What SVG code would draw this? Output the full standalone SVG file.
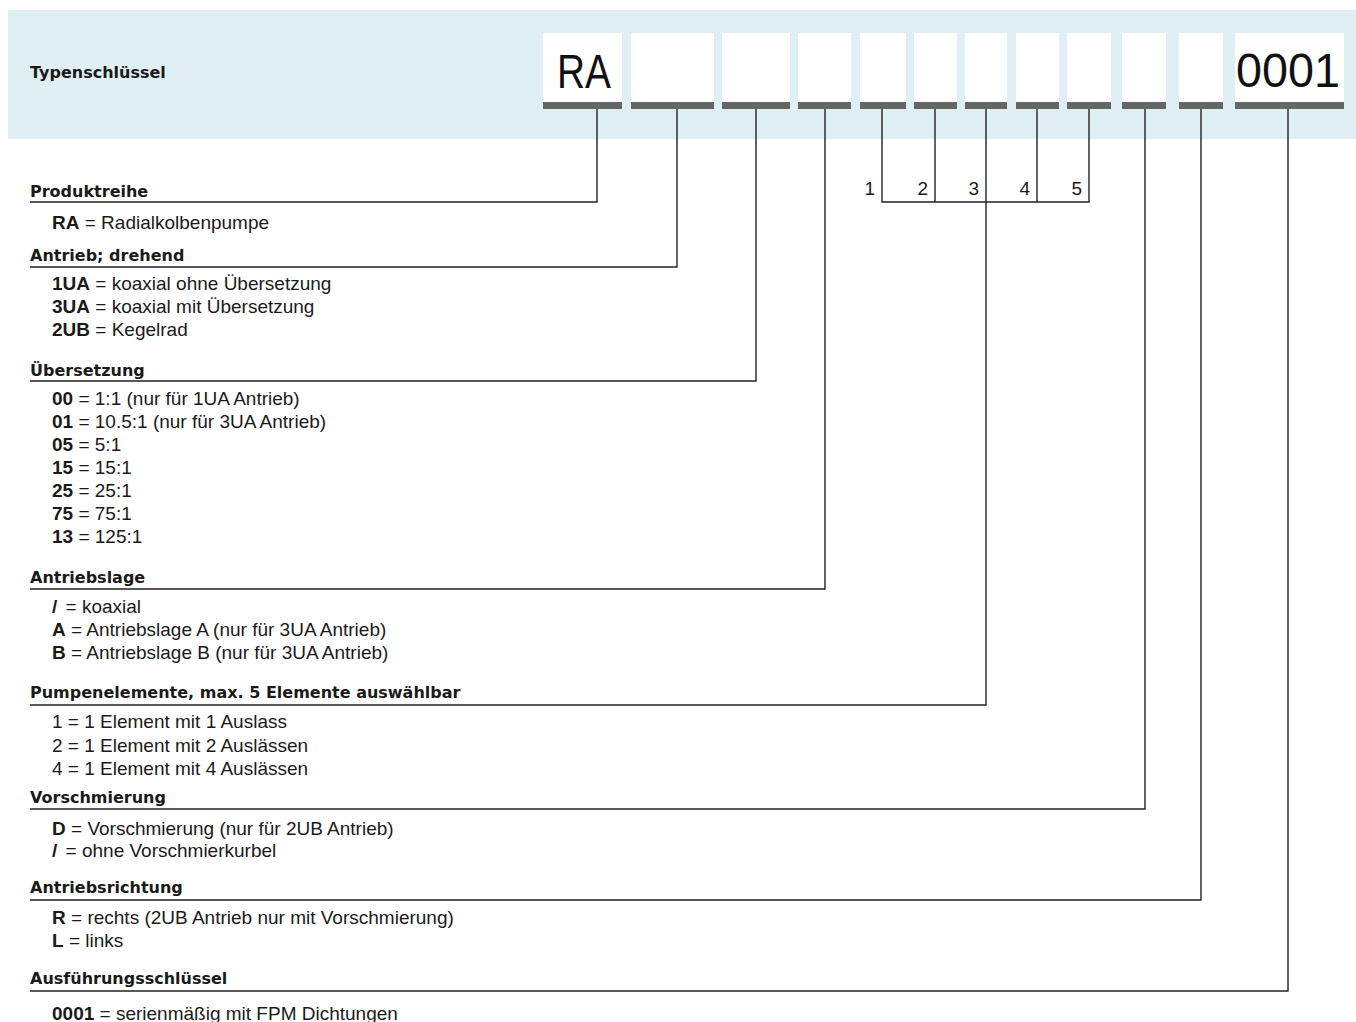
<svg xmlns="http://www.w3.org/2000/svg" width="1356" height="1022" viewBox="0 0 1356 1022">
<style>
.band{fill:#dfeff4}
.box{fill:#ffffff}
.bar{fill:#666666}
.h{font-family:"DejaVu Sans","Liberation Sans",sans-serif;font-weight:bold;font-size:16px;fill:#1a1a1a}
.t{font-family:"Liberation Sans",Arial,sans-serif;font-size:19px;fill:#1a1a1a}
.b{font-weight:bold}
.big{font-family:"Liberation Sans",Arial,sans-serif;font-size:48px;fill:#111111}
.num{font-family:"Liberation Sans",Arial,sans-serif;font-size:19px;fill:#1a1a1a;text-anchor:end}
.c{fill:none;stroke:#222222;stroke-width:1.4}
</style>
<rect width="1356" height="1022" fill="#ffffff"/>
<g id="header">
<rect class="band" x="8" y="10" width="1348" height="129"/>
<text class="h" x="30" y="78">Typenschlüssel</text>
</g>
<g id="code-boxes">
<g id="box-1"><rect class="box" x="543" y="33" width="79" height="69"/><rect class="bar" x="543" y="102" width="79" height="7"/><text class="big" x="557" y="88" textLength="54" lengthAdjust="spacingAndGlyphs">RA</text></g>
<g id="box-2"><rect class="box" x="631" y="33" width="83" height="69"/><rect class="bar" x="631" y="102" width="83" height="7"/></g>
<g id="box-3"><rect class="box" x="722" y="33" width="68" height="69"/><rect class="bar" x="722" y="102" width="68" height="7"/></g>
<g id="box-4"><rect class="box" x="798" y="33" width="53" height="69"/><rect class="bar" x="798" y="102" width="53" height="7"/></g>
<g id="box-5"><rect class="box" x="860" y="33" width="46" height="69"/><rect class="bar" x="860" y="102" width="46" height="7"/></g>
<g id="box-6"><rect class="box" x="914" y="33" width="43" height="69"/><rect class="bar" x="914" y="102" width="43" height="7"/></g>
<g id="box-7"><rect class="box" x="965" y="33" width="42" height="69"/><rect class="bar" x="965" y="102" width="42" height="7"/></g>
<g id="box-8"><rect class="box" x="1016" y="33" width="43" height="69"/><rect class="bar" x="1016" y="102" width="43" height="7"/></g>
<g id="box-9"><rect class="box" x="1067" y="33" width="44" height="69"/><rect class="bar" x="1067" y="102" width="44" height="7"/></g>
<g id="box-10"><rect class="box" x="1122" y="33" width="44" height="69"/><rect class="bar" x="1122" y="102" width="44" height="7"/></g>
<g id="box-11"><rect class="box" x="1179" y="33" width="44" height="69"/><rect class="bar" x="1179" y="102" width="44" height="7"/></g>
<g id="box-12"><rect class="box" x="1235" y="33" width="109" height="69"/><rect class="bar" x="1235" y="102" width="109" height="7"/><text class="big" x="1236" y="87" textLength="104" lengthAdjust="spacingAndGlyphs">0001</text></g>
</g>
<g id="connectors">
<path class="c" d="M597,109 V202 H30"/>
<path class="c" d="M677,109 V267 H30"/>
<path class="c" d="M756,109 V381 H30"/>
<path class="c" d="M825,109 V589 H30"/>
<path class="c" d="M882,109 V202 H1089 V109"/>
<path class="c" d="M935,109 V202"/>
<path class="c" d="M1037,109 V202"/>
<path class="c" d="M986,109 V705 H30"/>
<path class="c" d="M1145,109 V809 H30"/>
<path class="c" d="M1201,109 V900 H30"/>
<path class="c" d="M1288,109 V991 H30"/>
</g>
<g id="element-numbers">
<text class="num" x="875" y="195">1</text>
<text class="num" x="928" y="195">2</text>
<text class="num" x="979" y="195">3</text>
<text class="num" x="1030" y="195">4</text>
<text class="num" x="1082" y="195">5</text>
</g>
<g id="sec-produktreihe">
<text class="h" x="30" y="197">Produktreihe</text>
<text class="t" x="52" y="229"><tspan class="b">RA</tspan> = Radialkolbenpumpe</text>
</g>
<g id="sec-antrieb">
<text class="h" x="30" y="261">Antrieb; drehend</text>
<text class="t" x="52" y="290"><tspan class="b">1UA</tspan> = koaxial ohne Übersetzung</text>
<text class="t" x="52" y="313"><tspan class="b">3UA</tspan> = koaxial mit Übersetzung</text>
<text class="t" x="52" y="336"><tspan class="b">2UB</tspan> = Kegelrad</text>
</g>
<g id="sec-uebersetzung">
<text class="h" x="30" y="376">Übersetzung</text>
<text class="t" x="52" y="405"><tspan class="b">00</tspan> = 1:1 (nur für 1UA Antrieb)</text>
<text class="t" x="52" y="428"><tspan class="b">01</tspan> = 10.5:1 (nur für 3UA Antrieb)</text>
<text class="t" x="52" y="451"><tspan class="b">05</tspan> = 5:1</text>
<text class="t" x="52" y="474"><tspan class="b">15</tspan> = 15:1</text>
<text class="t" x="52" y="497"><tspan class="b">25</tspan> = 25:1</text>
<text class="t" x="52" y="520"><tspan class="b">75</tspan> = 75:1</text>
<text class="t" x="52" y="543"><tspan class="b">13</tspan> = 125:1</text>
</g>
<g id="sec-antriebslage">
<text class="h" x="30" y="583">Antriebslage</text>
<text class="t" x="52" y="613"><tspan class="b">/</tspan><tspan dx="3"> = koaxial</tspan></text>
<text class="t" x="52" y="636"><tspan class="b">A</tspan> = Antriebslage A (nur für 3UA Antrieb)</text>
<text class="t" x="52" y="659"><tspan class="b">B</tspan> = Antriebslage B (nur für 3UA Antrieb)</text>
</g>
<g id="sec-pumpenelemente">
<text class="h" x="30" y="698">Pumpenelemente, max. 5 Elemente auswählbar</text>
<text class="t" x="52" y="728">1 = 1 Element mit 1 Auslass</text>
<text class="t" x="52" y="752">2 = 1 Element mit 2 Auslässen</text>
<text class="t" x="52" y="775">4 = 1 Element mit 4 Auslässen</text>
</g>
<g id="sec-vorschmierung">
<text class="h" x="30" y="803">Vorschmierung</text>
<text class="t" x="52" y="835"><tspan class="b">D</tspan> = Vorschmierung (nur für 2UB Antrieb)</text>
<text class="t" x="52" y="857"><tspan class="b">/</tspan><tspan dx="3"> = ohne Vorschmierkurbel</tspan></text>
</g>
<g id="sec-antriebsrichtung">
<text class="h" x="30" y="893">Antriebsrichtung</text>
<text class="t" x="52" y="924"><tspan class="b">R</tspan> = rechts (2UB Antrieb nur mit Vorschmierung)</text>
<text class="t" x="52" y="947"><tspan class="b">L</tspan> = links</text>
</g>
<g id="sec-ausfuehrung">
<text class="h" x="30" y="984">Ausführungsschlüssel</text>
<text class="t" x="52" y="1020"><tspan class="b">0001</tspan> = serienmäßig mit FPM Dichtungen</text>
</g>
</svg>
